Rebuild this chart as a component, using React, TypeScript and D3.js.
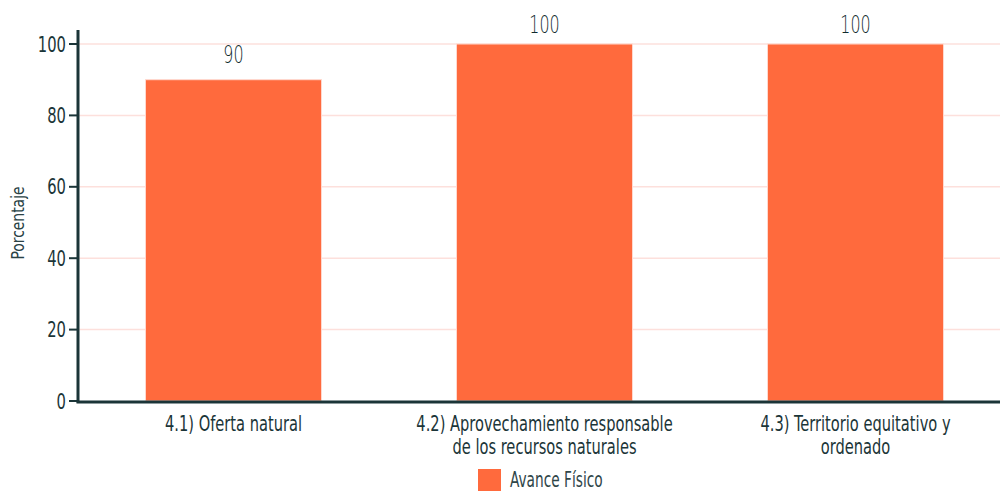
import React from "react";
import * as d3 from "d3";

const categories: string[][] = [
  ["4.1) Oferta natural"],
  ["4.2) Aprovechamiento responsable", "de los recursos naturales"],
  ["4.3) Territorio equitativo y", "ordenado"],
];
const values = [90, 100, 100];
const yTicks = [0, 20, 40, 60, 80, 100];
const seriesName = "Avance Físico";
const yTitle = "Porcentaje";

const W = 1000;
const H = 491;
const FONT = "'DejaVu Sans Condensed', 'DejaVu Sans', sans-serif";
const INK = "#1b3538";

type CTProps = {
  x: number;
  y: number;
  size: number;
  sx: number;
  anchor?: "start" | "middle" | "end";
  weight?: number;
  fill?: string;
  rotate?: number;
  family?: string;
  children: React.ReactNode;
};

function CText({ x, y, size, sx, anchor = "start", weight = 400, fill = INK, rotate = 0, family, children }: CTProps) {
  return (
    <text
      transform={`translate(${x},${y}) rotate(${rotate}) scale(${sx},1)`}
      textAnchor={anchor}
      fontSize={size}
      fontWeight={weight}
      fill={fill}
      fontFamily={family}
    >
      {children}
    </text>
  );
}

export default function App() {
  const left = 78;
  const bottom = 401;
  const x = d3
    .scaleBand<number>()
    .domain(values.map((_, i) => i))
    .range([left, 1011])
    .paddingInner(0.434)
    .paddingOuter(0.217);
  const y = d3.scaleLinear().domain([0, 100]).range([bottom, 44]);
  return (
    <svg
      width={W}
      height={H}
      style={{ position: "absolute", left: 0, top: 0, display: "block" }}
      fontFamily={FONT}
    >
      {yTicks.map((t) => (
        <g key={t}>
          {t > 0 && (
            <line x1={left} x2={W} y1={y(t)} y2={y(t)} stroke="#fde0dc" strokeWidth={1.5} />
          )}
          <line x1={69} x2={left} y1={y(t)} y2={y(t)} stroke={INK} strokeWidth={2} />
          <CText x={66} y={y(t) + 7.5} size={20.5} sx={0.8} anchor="end">
            {t}
          </CText>
        </g>
      ))}
      {values.map((v, i) => {
        const cx = (x(i) as number) + x.bandwidth() / 2;
        return (
          <g key={i}>
            <rect
              x={x(i)}
              y={y(v)}
              width={x.bandwidth()}
              height={bottom - y(v)}
              fill="#ff6a3d"
              stroke="#ffd9cf"
              strokeWidth={1}
            />
            <CText
              x={cx}
              y={Math.max(y(v) - 17, 33)}
              size={24.5}
              sx={0.65}
              anchor="middle"
              weight={200}
              fill="#0f2a2d"
              family="'DejaVu Sans', sans-serif"
            >
              {v}
            </CText>
            {categories[i].map((line, j) => (
              <CText key={j} x={cx} y={431 + j * 23} size={22} sx={0.74} anchor="middle">
                {line}
              </CText>
            ))}
          </g>
        );
      })}
      <line x1={left} x2={left} y1={30} y2={bottom + 1.5} stroke={INK} strokeWidth={3} />
      <line x1={left - 1.5} x2={W} y1={bottom + 1} y2={bottom + 1} stroke={INK} strokeWidth={3} />
      <CText x={24} y={223} size={18} sx={0.86} anchor="middle" rotate={-90} fill="#2a4245">
        {yTitle}
      </CText>
      <rect x={478} y={469} width={23} height={22} fill="#ff6a3d" />
      <CText x={510} y={487} size={21.5} sx={0.71} weight={300} fill="#2f4649">
        {seriesName}
      </CText>
    </svg>
  );
}
